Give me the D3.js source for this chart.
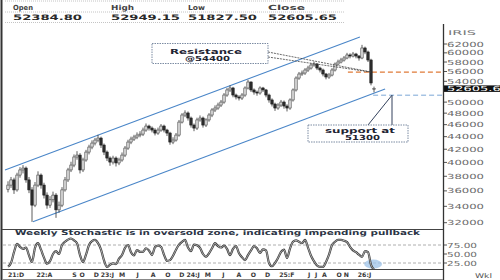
<!DOCTYPE html>
<html>
<head>
<meta charset="utf-8">
<script src="https://cdn.jsdelivr.net/npm/d3@7"></script>
<style>
    body { margin: 0; background: #fff; }
    svg { display: block; font-family: "DejaVu Sans", Verdana, sans-serif; }
</style>
</head>
<body>
<svg id="chart"></svg>
<script>
// weekly candles
const opens = [36200,36780,37490,36130,38170,38900,39170,37490,36130,34150,36780,38170,36780,35440,34150,34830,35440,33560,34150,36130,37490,38900,39610,40810,41100,38900,40360,41560,42340,42970,43450,43770,42650,41560,40650,40050,40650,39920,40360,41100,42180,43130,43610,43940,44260,44420,45090,45760,45420,45090,44590,45090,45760,45090,44590,43130,43450,44260,46440,47670,48030,47140,45930,45420,46810,47140,45930,46810,47670,48570,48920,49460,50010,51330,52300,52680,51330,50960,50760,51330,52680,53860,52300,51900,51720,52680,52300,51330,50400,49640,48920,49460,50010,49280,48920,50400,52300,54660,55480,55690,56310,56720,57360,57570,56720,56310,55480,54870,55270,56310,57570,58000,58430,58870,59530,59300,59740,59300,58870,61090,60190,58430,52384.80];
const highs = [37300,37900,37800,38500,39300,39600,39400,37900,36500,37200,38700,38400,37100,35800,35300,35900,35700,34600,36500,37900,39200,40100,41200,41700,41400,40700,41900,42700,43400,43800,44300,44000,42900,41800,40900,41000,40900,40700,41500,42500,43500,44000,44300,44700,44900,45500,46200,46000,45700,45400,45500,46100,46000,45300,44800,43900,44600,46800,48000,48500,48300,47400,46200,47200,47600,47400,47100,48000,48900,49400,49900,50400,51700,52700,53200,52900,51600,51300,51700,53000,54300,54000,52600,52200,53000,52900,52500,51600,50700,49900,49800,50400,50300,49600,50700,52600,55000,55900,56200,56700,57200,57800,58100,57800,57000,56600,55700,55700,56700,57900,58500,58900,59300,60000,59900,60200,60000,59500,61800,61400,60500,58700,52949.15];
const lows = [35800,36400,35600,35900,37800,38400,37100,35700,32100,33900,36500,36300,35000,33700,33800,34500,32580,33200,33900,35900,37200,38600,39300,40400,38400,38600,40100,41200,42000,42600,43100,42200,41100,40200,39500,39700,39400,39600,40100,40800,41900,42800,43300,43600,43900,44100,44800,45000,44700,44200,44300,44800,44700,44100,42700,42800,43200,44000,46200,47300,46700,45500,44900,45100,46500,45500,45600,46500,47300,48200,48600,49100,49700,51000,51900,50900,50500,50300,50400,51000,52400,51900,51400,51200,51400,51900,50900,49900,49200,48400,48600,49100,48800,48300,48600,50100,52000,54300,55100,55300,55900,56400,57000,56300,55800,55000,54400,54500,55000,56000,57300,57700,58100,58600,58800,59000,58800,58300,58600,59700,58000,53200,51827.50];
const closes = [36780,37490,36130,38170,38900,39170,37490,36130,34150,36780,38170,36780,35440,34150,34830,35440,33560,34150,36130,37490,38900,39610,40810,41100,38900,40360,41560,42340,42970,43450,43770,42650,41560,40650,40050,40650,39920,40360,41100,42180,43130,43610,43940,44260,44420,45090,45760,45420,45090,44590,45090,45760,45090,44590,43130,43450,44260,46440,47670,48030,47140,45930,45420,46810,47140,45930,46810,47670,48570,48920,49460,50010,51330,52300,52680,51330,50960,50760,51330,52680,53860,52300,51900,51720,52680,52300,51330,50400,49640,48920,49460,50010,49280,48920,50400,52300,54660,55480,55690,56310,56720,57360,57570,56720,56310,55480,54870,55270,56310,57570,58000,58430,58870,59530,59300,59740,59300,58870,61090,60190,58430,53670,52605.65];

// stochastic, one value per candle
const stoch = [15,25,55,78,70,64,68,46,28,67,80,62,40,23,30,50,58,50,75,84,90,93,88,80,47,28,48,75,86,89,80,62,32,14,20,24,22,37,47,67,75,55,46,61,56,56,66,60,47,69,73,70,48,31,33,45,62,76,84,89,68,58,76,74,67,50,42,52,66,80,72,68,73,64,47,64,72,52,41,33,47,60,72,66,53,63,60,25,16,25,39,56,62,39,65,84,88,84,80,89,68,45,30,18,14,14,28,48,75,84,89,89,87,83,70,60,55,48,42,58,55,20,7];

const priceTicks = [62000,60000,58000,56000,54000,50000,48000,46000,44000,42000,40000,38000,36000,34000,32000];
const stochTicks = [75, 50, 25];
const stochGuides = [75, 25];

// date labels: [candle position, text]
const dateTicks = [[0,"21:D"],[9.5,"22:A"],[21.4,"S"],[23.8,"O"],[28.6,"D"],[30.9,"23:J"],[37,"M"],[42.8,"J"],[47.6,"A"],[52.4,"O"],[57.1,"D"],[59.5,"24:J"],[65.6,"M"],[71.4,"J"],[76.2,"A"],[80.9,"O"],[85.7,"D"],[90.4,"25:F"],[100,"J"],[102.3,"J"],[104.7,"A"],[109.5,"O"],[111.9,"N"],[116.6,"26:J"]];

const headerLabels = ["Open", "High", "Low", "Close"];
const headerValues = ["52384.80", "52949.15", "51827.50", "52605.65"];

// trend channel ends: [candle position, price]
const channelUpper = [[-1, 38900], [117.3, 63630]];
const channelLower = [[8.3, 32100], [125.7, 52480]];
const resistanceLine = { from: 113.3, price: 55890 };
const supportLine = { from: 121.7, price: 51300 };
const lastClose = 52605.65;

class CandleChart {
    constructor(_config) {
        this.config = {
            parentElement: _config.parentElement,
            width: 500,
            height: 280,
            axisX: 443,
            plotTop: 24,
            plotBottom: 229,
            stochTop: 229.5,
            stochBottom: 269.5
        };
        this.initVis();
    }

    initVis() {
        let vis = this;
        const c = vis.config;

        vis.svg = d3.select(c.parentElement)
            .attr("width", c.width)
            .attr("height", c.height);

        vis.xScale = d3.scaleLinear().domain([0, closes.length - 1]).range([8, 374]);
        vis.yScale = d3.scaleLog().domain([32000, 62000]).range([222.7, 44]);
        vis.sScale = d3.scaleLinear().domain([0, 100]).range([272, 236]);

        const defs = vis.svg.append("defs");
        defs.append("clipPath").attr("id", "clipMain")
            .append("rect").attr("x", 3).attr("y", c.plotTop)
            .attr("width", c.axisX - 3).attr("height", c.plotBottom - c.plotTop);
        defs.append("clipPath").attr("id", "clipStoch")
            .append("rect").attr("x", 3).attr("y", c.stochTop)
            .attr("width", c.axisX - 3).attr("height", c.stochBottom - c.stochTop);

        vis.renderHeader();
        vis.renderMain();
        vis.renderStoch();
        vis.renderFrame();
    }

    stretchText(g, x, y, s, len, opt = {}) {
        return g.append("text")
            .attr("x", x)
            .attr("y", y)
            .attr("textLength", len)
            .attr("lengthAdjust", "spacingAndGlyphs")
            .attr("font-size", opt.size || 7)
            .attr("font-weight", opt.weight || "normal")
            .attr("fill", opt.fill || "#333")
            .text(s);
    }

    renderHeader() {
        let vis = this;
        const g = vis.svg.append("g").attr("class", "header");
        const xs = [13, 111, 188, 268];
        const labelLen = [20, 23, 17, 37];

        [1, 12, 22.5].forEach(y => {
            g.append("line")
                .attr("x1", 5).attr("x2", 345)
                .attr("y1", y).attr("y2", y)
                .attr("stroke", "#c4c4c4")
                .attr("stroke-dasharray", "1,1");
        });

        headerLabels.forEach((t, i) => {
            vis.stretchText(g, xs[i], 9.5, t, labelLen[i], { size: 7, weight: "bold", fill: "#444" });
        });
        headerValues.forEach((t, i) => {
            vis.stretchText(g, xs[i], 20, t, 69, { size: 7.5, weight: "bold", fill: "#2a2a2a" });
        });
    }

    renderMain() {
        let vis = this;
        const x = vis.xScale, y = vis.yScale;
        const c = vis.config;

        const candles = closes.map((cl, i) => ({ i, o: opens[i], h: highs[i], l: lows[i], c: cl }));

        const chart = vis.svg.append("g").attr("clip-path", "url(#clipMain)");

        const line = d3.line().x(d => x(d[0])).y(d => y(d[1]));

        // trend channel
        chart.selectAll(".channel")
            .data([channelUpper, channelLower])
            .join("path")
            .attr("class", "channel")
            .attr("d", line)
            .attr("fill", "none")
            .attr("stroke", "#4a86c8")
            .attr("stroke-width", 1.1);

        // levels
        chart.append("line")
            .attr("x1", x(resistanceLine.from)).attr("x2", c.axisX)
            .attr("y1", y(resistanceLine.price)).attr("y2", y(resistanceLine.price))
            .attr("stroke", "#e07b39")
            .attr("stroke-width", 1.2)
            .attr("stroke-dasharray", "5,3");

        chart.append("line")
            .attr("x1", x(supportLine.from)).attr("x2", c.axisX)
            .attr("y1", y(supportLine.price)).attr("y2", y(supportLine.price))
            .attr("stroke", "#7aa7d6")
            .attr("stroke-width", 1)
            .attr("stroke-dasharray", "5,3");

        // candles
        chart.selectAll(".wick")
            .data(candles)
            .join("line")
            .attr("class", "wick")
            .attr("x1", d => x(d.i)).attr("x2", d => x(d.i))
            .attr("y1", d => y(d.h)).attr("y2", d => y(d.l))
            .attr("stroke", "#333")
            .attr("stroke-width", 0.8);

        chart.selectAll(".body")
            .data(candles)
            .join("rect")
            .attr("class", "body")
            .attr("x", d => x(d.i) - 1.2)
            .attr("width", 2.4)
            .attr("y", d => y(Math.max(d.o, d.c)))
            .attr("height", d => Math.max(1, Math.abs(y(d.o) - y(d.c))))
            .attr("fill", d => d.c >= d.o ? "#dcdcdc" : "#2e2e2e")
            .attr("stroke", d => d.c >= d.o ? "#444" : "#1a1a1a")
            .attr("stroke-width", 0.6);

        // resistance callout
        const tipR = [x(121), y(resistanceLine.price)];
        const callR = vis.svg.append("g");
        [52, 57].forEach(by => {
            callR.append("line")
                .attr("x1", 268).attr("y1", by)
                .attr("x2", tipR[0]).attr("y2", tipR[1])
                .attr("stroke", "#444")
                .attr("stroke-width", 0.8)
                .attr("stroke-dasharray", "2,1");
        });
        callR.append("rect")
            .attr("x", 152).attr("y", 43.5)
            .attr("width", 116).attr("height", 20)
            .attr("fill", "#fff")
            .attr("stroke", "#6d7f99")
            .attr("stroke-width", 0.9)
            .attr("stroke-dasharray", "1.5,1");
        vis.stretchText(callR, 170, 53.5, "Resistance", 72, { size: 7, weight: "bold", fill: "#1e2433" });
        vis.stretchText(callR, 185, 60.5, "@54400", 45, { size: 7, weight: "bold", fill: "#1e2433" });

        // support callout
        const tipS = [x(128), y(supportLine.price)];
        const callS = vis.svg.append("g");
        callS.append("path")
            .attr("d", `M368,125L${tipS[0]},${tipS[1]}L392,125`)
            .attr("fill", "none")
            .attr("stroke", "#33415c")
            .attr("stroke-width", 1);
        callS.append("rect")
            .attr("x", 308).attr("y", 125)
            .attr("width", 100).attr("height", 17)
            .attr("fill", "#fff")
            .attr("stroke", "#6d7f99")
            .attr("stroke-width", 0.9)
            .attr("stroke-dasharray", "1.5,1");
        vis.stretchText(callS, 325, 133, "support at", 70, { size: 7, weight: "bold", fill: "#1e2433" });
        vis.stretchText(callS, 345, 140, "51300", 35, { size: 7, weight: "bold", fill: "#1e2433" });

        // price axis
        const ax = vis.svg.append("g").attr("class", "y-axis");
        vis.stretchText(ax, 448, 35, "IRIS", 28, { size: 6.5, fill: "#777" });
        ax.selectAll(".tick")
            .data(priceTicks)
            .join("line")
            .attr("x1", c.axisX).attr("x2", c.axisX + 4)
            .attr("y1", d => y(d)).attr("y2", d => y(d))
            .attr("stroke", "#555");
        priceTicks.forEach(t => {
            vis.stretchText(ax, 447, y(t) + 2.5, String(t), 37, { size: 7, fill: "#6a6a6a" });
        });

        ax.append("rect")
            .attr("x", c.axisX + 1).attr("y", y(lastClose) - 3)
            .attr("width", 60).attr("height", 6.5)
            .attr("fill", "#111");
        vis.stretchText(ax, 447, y(lastClose) + 2.6, "52605.65", 62, { size: 7, fill: "#fff" });
    }

    renderStoch() {
        let vis = this;
        const x = vis.xScale, s = vis.sScale;
        const c = vis.config;

        const g = vis.svg.append("g").attr("clip-path", "url(#clipStoch)");

        g.selectAll(".guide")
            .data(stochGuides)
            .join("line")
            .attr("class", "guide")
            .attr("x1", 3).attr("x2", c.axisX)
            .attr("y1", d => s(d)).attr("y2", d => s(d))
            .attr("stroke", "#999")
            .attr("stroke-width", 0.8)
            .attr("stroke-dasharray", "3,2");

        g.append("ellipse")
            .attr("cx", x(121.7)).attr("cy", s(22))
            .attr("rx", 9).attr("ry", 4.5)
            .attr("fill", "#9dc3e8")
            .attr("opacity", 0.75);

        const line = d3.line()
            .x((d, i) => x(i))
            .y(d => s(d))
            .curve(d3.curveMonotoneX);

        g.append("path")
            .datum(stoch)
            .attr("d", line)
            .attr("fill", "none")
            .attr("stroke", "#3a3a3a")
            .attr("stroke-width", 2.2);
        g.append("path")
            .datum(stoch)
            .attr("d", line)
            .attr("fill", "none")
            .attr("stroke", "#bcbcbc")
            .attr("stroke-width", 0.9);

        vis.stretchText(vis.svg, 15, 235, "Weekly Stochastic is in oversold zone, indicating impending pullback", 405,
            { size: 7, weight: "bold", fill: "#2b3445" });

        const ax = vis.svg.append("g");
        stochTicks.forEach(t => {
            ax.append("line")
                .attr("x1", c.axisX).attr("x2", c.axisX + 4)
                .attr("y1", s(t)).attr("y2", s(t))
                .attr("stroke", "#555");
            vis.stretchText(ax, 447, s(t) + 2.5, t.toFixed(2), 30, { size: 7, fill: "#6a6a6a" });
        });

        // date row
        dateTicks.forEach(([pos, t]) => {
            ax.append("text")
                .attr("x", x(pos))
                .attr("y", 277)
                .attr("font-size", 6.2)
                .attr("font-weight", "bold")
                .attr("fill", "#3a3a3a")
                .text(t);
        });
        vis.stretchText(ax, 475, 277.5, "Wkl", 17, { size: 6.5, fill: "#555" });
    }

    renderFrame() {
        let vis = this;
        const c = vis.config;
        const g = vis.svg.append("g").attr("class", "frame");

        g.append("line")
            .attr("x1", 1.5).attr("x2", 1.5).attr("y1", 0).attr("y2", c.height)
            .attr("stroke", "#333").attr("stroke-width", 2);
        g.append("line")
            .attr("x1", c.axisX + 0.5).attr("x2", c.axisX + 0.5).attr("y1", 24).attr("y2", c.height)
            .attr("stroke", "#333").attr("stroke-width", 1.3);
        [c.stochTop, c.stochBottom].forEach(yy => {
            g.append("line")
                .attr("x1", 2).attr("x2", c.axisX)
                .attr("y1", yy).attr("y2", yy)
                .attr("stroke", "#444").attr("stroke-width", 1);
        });
        g.append("line")
            .attr("x1", 2).attr("x2", c.axisX)
            .attr("y1", 279.5).attr("y2", 279.5)
            .attr("stroke", "#888").attr("stroke-width", 1);
    }
}

const chart = new CandleChart({ parentElement: "#chart" });
</script>
</body>
</html>
